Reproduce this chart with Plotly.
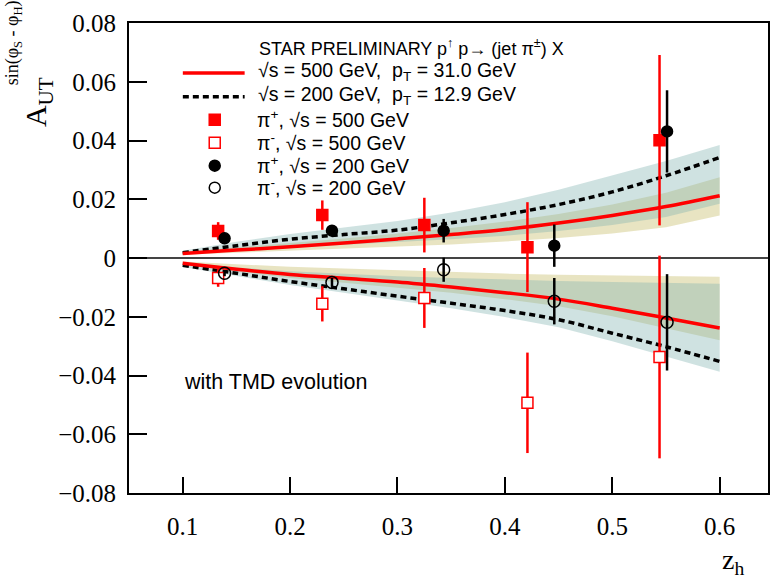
import plotly.graph_objects as go

# ---------------- data ----------------
# theory curves (z_h grid)
z_curve = [0.10, 0.15, 0.20, 0.25, 0.30, 0.35, 0.40, 0.45, 0.50, 0.55, 0.60]
# 500 GeV (red solid), pi+ (upper) and pi- (lower)
c500_up = [0.0015, 0.0027, 0.0038, 0.0051, 0.0065, 0.0080, 0.0097, 0.0119, 0.0145, 0.0175, 0.0212]
c500_lo = [-0.0018, -0.0038, -0.0056, -0.0069, -0.0082, -0.0099, -0.0118, -0.0140, -0.0171, -0.0204, -0.0238]
# 200 GeV (black dashed)
c200_up = [0.0018, 0.0042, 0.0064, 0.0080, 0.0095, 0.0120, 0.0148, 0.0182, 0.0225, 0.0280, 0.0342]
c200_lo = [-0.0025, -0.0052, -0.0080, -0.0105, -0.0130, -0.0154, -0.0179, -0.0210, -0.0256, -0.0302, -0.0352]
# uncertainty bands
b500_up_lo = [0.0011, 0.0018, 0.0024, 0.0031, 0.0038, 0.0046, 0.0056, 0.0068, 0.0083, 0.0105, 0.0145]
b500_up_hi = [0.0021, 0.0036, 0.0050, 0.0066, 0.0083, 0.0102, 0.0124, 0.0150, 0.0182, 0.0222, 0.0275]
b200_up_lo = [0.0012, 0.0025, 0.0036, 0.0045, 0.0054, 0.0064, 0.0076, 0.0092, 0.0112, 0.0140, 0.0185]
b200_up_hi = [0.0025, 0.0055, 0.0082, 0.0104, 0.0126, 0.0155, 0.0190, 0.0232, 0.0280, 0.0330, 0.0385]
b500_lo_hi = [-0.0012, -0.0022, -0.0030, -0.0036, -0.0042, -0.0048, -0.0053, -0.0057, -0.0060, -0.0062, -0.0064]
b500_lo_lo = [-0.0023, -0.0046, -0.0068, -0.0084, -0.0100, -0.0118, -0.0140, -0.0164, -0.0198, -0.0238, -0.0280]
b200_lo_hi = [-0.0015, -0.0032, -0.0045, -0.0054, -0.0062, -0.0068, -0.0074, -0.0078, -0.0082, -0.0085, -0.0088]
b200_lo_lo = [-0.0031, -0.0062, -0.0092, -0.0118, -0.0145, -0.0171, -0.0201, -0.0236, -0.0283, -0.0334, -0.0387]

# STAR preliminary points
z500 = [0.133, 0.230, 0.325, 0.421, 0.544]
pip500 = [0.0092, 0.0146, 0.0112, 0.0037, 0.0401]
pip500_err = [0.0030, 0.0050, 0.0093, 0.0153, 0.0290]
pim500 = [-0.0068, -0.0156, -0.0136, -0.0493, -0.0337]
pim500_err = [0.0030, 0.0060, 0.0102, 0.0171, 0.0345]

z200 = [0.139, 0.239, 0.343, 0.446, 0.551]
pip200 = [0.0067, 0.0093, 0.0093, 0.0042, 0.0431]
pip200_err = [0.0010, 0.0015, 0.0040, 0.0072, 0.0140]
pim200 = [-0.0052, -0.0083, -0.0040, -0.0147, -0.0219]
pim200_err = [0.0010, 0.0015, 0.0041, 0.0079, 0.0164]

x_ticks = [0.1, 0.2, 0.3, 0.4, 0.5, 0.6]
x_ticklabels = ["0.1", "0.2", "0.3", "0.4", "0.5", "0.6"]
y_ticks = [-0.08, -0.06, -0.04, -0.02, 0.0, 0.02, 0.04, 0.06, 0.08]
y_ticklabels = ["\u22120.08", "\u22120.06", "\u22120.04", "\u22120.02", "0", "0.02", "0.04", "0.06", "0.08"]

legend_title = "STAR PRELIMINARY p<sup>\u2191</sup> p\u2192 (jet \u03c0<sup>\u00b1</sup>) X"
legend_lines = ["\u221as = 500 GeV,  p<sub>T</sub> = 31.0 GeV",
                "\u221as = 200 GeV,  p<sub>T</sub> = 12.9 GeV"]
legend_points = ["\u03c0<sup>+</sup>, \u221as = 500 GeV",
                 "\u03c0<sup>-</sup>, \u221as = 500 GeV",
                 "\u03c0<sup>+</sup>, \u221as = 200 GeV",
                 "\u03c0<sup>-</sup>, \u221as = 200 GeV"]

# ---------------- layout geometry ----------------
W, H = 780, 582
L, R, T, B = 129, 10, 22, 89
PW, PH = W - L - R, H - T - B


def px(x):
    return (x - L) / PW


def py(y):
    return (H - B - y) / PH


RED = "#ff0000"
KHAKI = "rgba(200,190,110,0.42)"
TEAL = "rgba(130,180,175,0.38)"
SANS = "Liberation Sans"
SERIF = "Liberation Serif"

fig = go.Figure()


def band(lo, hi, color):
    fig.add_trace(go.Scatter(x=z_curve, y=lo, mode="lines", line=dict(width=0),
                             showlegend=False, hoverinfo="skip"))
    fig.add_trace(go.Scatter(x=z_curve, y=hi, mode="lines", line=dict(width=0),
                             fill="tonexty", fillcolor=color, showlegend=False,
                             hoverinfo="skip"))


band(b500_up_lo, b500_up_hi, KHAKI)
band(b500_lo_lo, b500_lo_hi, KHAKI)
band(b200_up_lo, b200_up_hi, TEAL)
band(b200_lo_lo, b200_lo_hi, TEAL)

dash = "6px,4px"
for yv in (c200_up, c200_lo):
    fig.add_trace(go.Scatter(x=z_curve, y=yv, mode="lines", showlegend=False,
                             line=dict(color="black", width=3.5, dash=dash, shape="spline")))
for yv in (c500_up, c500_lo):
    fig.add_trace(go.Scatter(x=z_curve, y=yv, mode="lines", showlegend=False,
                             line=dict(color=RED, width=3.5, shape="spline")))


def points(x, y, err, color, symbol, fill, size):
    fig.add_trace(go.Scatter(
        x=x, y=y, mode="markers", showlegend=False,
        error_y=dict(type="data", array=err, visible=True, thickness=2.5, width=0, color=color),
        marker=dict(symbol=symbol, size=size, color=fill, line=dict(color=color, width=1.5))))


points(z500, pim500, pim500_err, RED, "square", "white", 11)
points(z500, pip500, pip500_err, RED, "square", RED, 11)
points(z200, pip200, pip200_err, "black", "circle", "black", 11)
points(z200, pim200, pim200_err, "black", "circle", "rgba(0,0,0,0)", 12)

shapes = []
annotations = []

# legend
title_font = dict(family=SANS, size=18, color="black")
row_font = dict(family=SANS, size=19.5, color="black")
annotations.append(dict(x=px(257), y=py(47), xref="paper", yref="paper", text=legend_title,
                        showarrow=False, xanchor="left", yanchor="middle", font=title_font))
line_rows = [72, 96]
line_styles = [dict(color=RED, width=3.5), dict(color="black", width=3.5, dash=dash)]
for ry, txt, st in zip(line_rows, legend_lines, line_styles):
    shapes.append(dict(type="line", xref="paper", yref="paper", x0=px(183), x1=px(245),
                       y0=py(ry), y1=py(ry), line=st))
    annotations.append(dict(x=px(256), y=py(ry - 1), xref="paper", yref="paper", text=txt,
                            showarrow=False, xanchor="left", yanchor="middle", font=row_font))

pt_rows = [119, 142, 165, 187]
pt_styles = [("rect", RED, RED), ("rect", RED, "white"), ("circle", "black", "black"),
             ("circle", "black", "white")]
for ry, txt, (kind, lc, fc) in zip(pt_rows, legend_points, pt_styles):
    shapes.append(dict(type=kind, xref="paper", yref="paper", xsizemode="pixel",
                       ysizemode="pixel", xanchor=px(215), yanchor=py(ry),
                       x0=-5.5, x1=5.5, y0=-5.5, y1=5.5,
                       line=dict(color=lc, width=1.5), fillcolor=fc))
    annotations.append(dict(x=px(255), y=py(ry - 1), xref="paper", yref="paper", text=txt,
                            showarrow=False, xanchor="left", yanchor="middle", font=row_font))

annotations.append(dict(x=px(182), y=py(382), xref="paper", yref="paper",
                        text="with TMD evolution", showarrow=False, xanchor="left",
                        yanchor="middle", font=dict(family=SANS, size=21.5, color="black")))

# axis titles
annotations.append(dict(x=px(38), y=py(101), xref="paper", yref="paper",
                        text="A<sub>UT</sub>", textangle=-90, showarrow=False,
                        xanchor="center", yanchor="middle",
                        font=dict(family=SERIF, size=30, color="black")))
annotations.append(dict(x=px(14), y=py(42), xref="paper", yref="paper",
                        text="sin(\u03c6<sub>S</sub> - \u03c6<sub>H</sub>)", textangle=-90,
                        showarrow=False, xanchor="center", yanchor="middle",
                        font=dict(family=SERIF, size=18, color="black")))
annotations.append(dict(x=px(735), y=py(562), xref="paper", yref="paper",
                        text="z<sub>h</sub>", showarrow=False, xanchor="center",
                        yanchor="middle", font=dict(family=SERIF, size=28, color="black")))

fig.update_layout(
    width=W, height=H, margin=dict(l=L, r=R, t=T, b=B, pad=0),
    paper_bgcolor="white", plot_bgcolor="white",
    shapes=shapes, annotations=annotations, showlegend=False,
    font=dict(family=SERIF, color="black"),
    xaxis=dict(range=[0.05, 0.645], tickmode="array", tickvals=x_ticks, ticktext=x_ticklabels,
               ticks="inside", ticklen=16, tickwidth=1.5, tickcolor="black",
               showline=True, linecolor="black", linewidth=2, mirror=True,
               showgrid=False, zeroline=False, ticklabelstandoff=10,
               tickfont=dict(family=SERIF, size=25, color="black")),
    yaxis=dict(range=[-0.08, 0.08], tickmode="array", tickvals=y_ticks, ticktext=y_ticklabels,
               ticks="inside", ticklen=18, tickwidth=1.5, tickcolor="black",
               showline=True, linecolor="black", linewidth=2, mirror=True,
               showgrid=False, zeroline=True, zerolinecolor="#444", zerolinewidth=1.5,
               ticklabelstandoff=6,
               tickfont=dict(family=SERIF, size=25, color="black")),
)

fig.write_html("out.html")
